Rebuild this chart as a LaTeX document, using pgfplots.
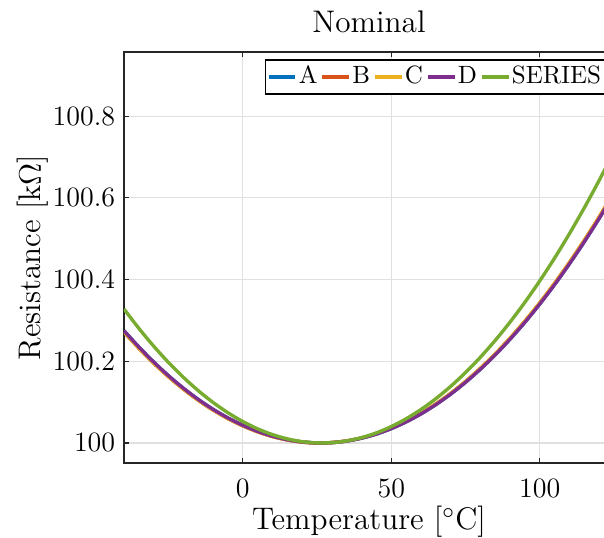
\RequirePackage{fix-cm}
\documentclass[border=0pt]{standalone}
\usepackage{pgfplots}
\usepackage{pgfplotstable}
\pgfplotsset{compat=1.18}

\definecolor{mA}{rgb}{0,0.447,0.741}
\definecolor{mB}{rgb}{0.850,0.325,0.098}
\definecolor{mC}{rgb}{0.929,0.694,0.125}
\definecolor{mD}{rgb}{0.494,0.184,0.556}
\definecolor{mS}{rgb}{0.466,0.674,0.188}

%% resistance [kOhm] vs temperature [C]
\pgfplotstableread{
T    A          B          C          D          S
-40  100.27479  100.27143  100.27143  100.27479  100.32794
-35  100.23489  100.23180  100.23180  100.23489  100.28060
-30  100.19812  100.19530  100.19530  100.19812  100.23694
-25  100.16447  100.16193  100.16193  100.16447  100.19698
-20  100.13396  100.13168  100.13168  100.13396  100.16070
-15  100.10657  100.10455  100.10455  100.10657  100.12811
-10  100.08231  100.08055  100.08055  100.08231  100.09921
-5   100.06118  100.05968  100.05968  100.06118  100.07400
0    100.04318  100.04193  100.04193  100.04318  100.05248
5    100.02831  100.02730  100.02730  100.02831  100.03465
10   100.01656  100.01580  100.01580  100.01656  100.02050
15   100.00795  100.00743  100.00743  100.00795  100.01005
20   100.00246  100.00218  100.00218  100.00246  100.00328
25   100.00010  100.00005  100.00005  100.00010  100.00021
30   100.00087  100.00105  100.00105  100.00087  100.00082
35   100.00477  100.00518  100.00518  100.00477  100.00512
40   100.01179  100.01243  100.01243  100.01179  100.01311
45   100.02195  100.02280  100.02280  100.02195  100.02479
50   100.03523  100.03630  100.03630  100.03523  100.04016
55   100.05165  100.05293  100.05293  100.05165  100.05922
60   100.07119  100.07268  100.07268  100.07119  100.08196
65   100.09386  100.09555  100.09555  100.09386  100.10840
70   100.11965  100.12155  100.12155  100.11965  100.13852
75   100.14858  100.15068  100.15068  100.14858  100.17234
80   100.18063  100.18293  100.18293  100.18063  100.20984
85   100.21582  100.21830  100.21830  100.21582  100.25103
90   100.25413  100.25680  100.25680  100.25413  100.29591
95   100.29557  100.29843  100.29843  100.29557  100.34448
100  100.34014  100.34318  100.34318  100.34014  100.39674
105  100.38783  100.39105  100.39105  100.38783  100.45269
110  100.43866  100.44205  100.44205  100.43866  100.51232
115  100.49261  100.49618  100.49618  100.49261  100.57565
120  100.54970  100.55343  100.55343  100.54970  100.64266
125  100.60991  100.61380  100.61380  100.60991  100.71337
}\rdata

\begin{document}
\begin{tikzpicture}
\begin{axis}[
    scale only axis,
    width=196pt, height=164.4pt,
    xmin=-40, xmax=125,
    ymin=99.951, ymax=100.957,
    xtick={0,50,100},
    xticklabels={0,50,100},
    ytick={100,100.2,100.4,100.6,100.8},
    yticklabels={100,100.2,100.4,100.6,100.8},
    scaled ticks=false,
    tick align=inside,
    major tick length=2pt,
    tick style={black!85, line width=0.5pt},
    axis line style={black!85, line width=0.6pt},
    grid=major,
    grid style={black!12, line width=0.5pt},
    ticklabel style={font=\fontsize{11.2}{13}\selectfont},
    xticklabel style={yshift=-3pt},
    label style={font=\fontsize{12.5}{15}\selectfont},
    every axis title shift=0pt,
    title style={font=\fontsize{12.5}{15}\selectfont, at={(axis description cs:0.5,1)}, anchor=base, yshift=8pt},
    title={Nominal},
    xlabel={Temperature [$^\circ$C]},
    ylabel={Resistance [k$\Omega$]},
    xlabel style={at={(axis description cs:0.5,-0.163)}, anchor=base},
    ylabel style={at={(axis description cs:-0.1694,0.5)}, anchor=base},
    every axis plot/.append style={line width=1.35pt, smooth},
    legend columns=-1,
    legend image code/.code={\draw[#1] (0pt,0pt) -- (10.7pt,0pt);},
    legend style={
        at={(axis description cs:0.2878,0.982)}, anchor=north west,
        draw=black, line width=0.5pt, fill=white,
        inner xsep=0.55pt, inner ysep=2.3pt,
        font=\fontsize{10}{12}\selectfont,
        nodes={inner xsep=0.65pt, inner ysep=0pt, text height=7.2pt, text depth=1.8pt},
        /tikz/every even column/.append style={column sep=0.6pt},
    },
]
\addplot[color=mA] table[x=T, y=A] {\rdata};
\addlegendentry{A}
\addplot[color=mB] table[x=T, y=B] {\rdata};
\addlegendentry{B}
\addplot[color=mC] table[x=T, y=C] {\rdata};
\addlegendentry{C}
\addplot[color=mD] table[x=T, y=D] {\rdata};
\addlegendentry{D}
\addplot[color=mS] table[x=T, y=S] {\rdata};
\addlegendentry{SERIES}
\end{axis}
\pgfresetboundingbox
\path (-49.6pt,-29.6pt) rectangle (192pt,185.2pt);
\end{tikzpicture}
\end{document}
